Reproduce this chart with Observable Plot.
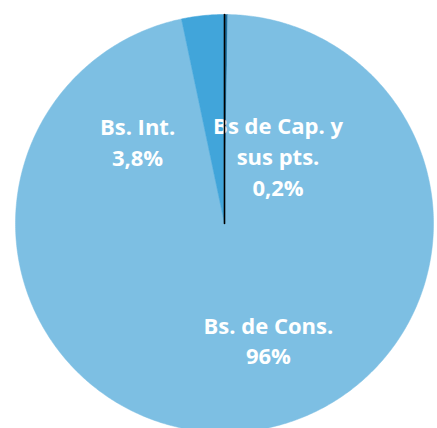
<!DOCTYPE html>
<html>
<head>
<meta charset="utf-8">
<script src="https://cdn.jsdelivr.net/npm/d3@7"></script>
<script src="https://cdn.jsdelivr.net/npm/@observablehq/plot@0.6"></script>
<style>
  html, body { margin: 0; padding: 0; background: #fff; }
  #chart { width: 437px; height: 428px; overflow: hidden; }
</style>
</head>
<body>
<div id="chart"></div>
<script>
// Data (clockwise from 12 o'clock)
const categories = ["Bs de Cap. y sus pts.", "Bs. de Cons.", "Bs. Int."];
const shares = [0.25, 96.45, 3.3];
const labelLines = [["Bs de Cap. y", "sus pts.", "0,2%"], ["Bs. de Cons.", "96%"], ["Bs. Int.", "3,8%"]];
const colors = ["#1f6f9f", "#7dbfe3", "#41a5da"];
// label anchor positions in unit-circle coordinates (fraction of radius)
const labelAnchorX = [0.256, 0.21, -0.416];
const labelAnchorY = [0.327, -0.553, 0.395];

const W = 437, H = 428, cx = 224, cy = 223, R = 209;

const pie = d3.pie().sort(null).value(d => d.share).startAngle(0).endAngle(2 * Math.PI);
const table = categories.map((c, i) => ({category: c, share: shares[i], color: colors[i]}));
const arcs = pie(table);

const pts = [];
for (const a of arcs) {
  const n = Math.max(2, Math.ceil((a.endAngle - a.startAngle) / 0.01));
  pts.push({cat: a.data.category, x: 0, y: 0});
  for (let k = 0; k <= n; k++) {
    const t = a.startAngle + (a.endAngle - a.startAngle) * k / n;
    pts.push({cat: a.data.category, x: Math.sin(t), y: Math.cos(t)});
  }
  pts.push({cat: a.data.category, x: 0, y: 0});
}

const start = arcs[0].startAngle;
const boundary = [{x: 0, y: 0}, {x: Math.sin(start), y: Math.cos(start)}];

const labels = labelLines.map((lines, i) => ({x: labelAnchorX[i], y: labelAnchorY[i], text: lines.join("\n")}));

const chart = Plot.plot({
  width: W, height: H,
  margin: 0,
  x: {domain: [-1, 1], range: [cx - R, cx + R], axis: null},
  y: {domain: [-1, 1], range: [cy + R, cy - R], axis: null},
  color: {domain: categories, range: colors},
  style: {background: "white"},
  marks: [
    Plot.line(pts, {x: "x", y: "y", z: "cat", fill: "cat", stroke: "cat", strokeWidth: 0.5, curve: "linear"}),
    Plot.text(labels, {x: "x", y: "y", text: "text", fill: "white", fontSize: 22, fontWeight: "bold",
      fontFamily: "'Open Sans', sans-serif", lineHeight: 1.4, textAnchor: "middle"}),
    Plot.line(boundary, {x: "x", y: "y", stroke: "black", strokeWidth: 1.6})
  ]
});
document.getElementById("chart").appendChild(chart);
</script>
</body>
</html>
